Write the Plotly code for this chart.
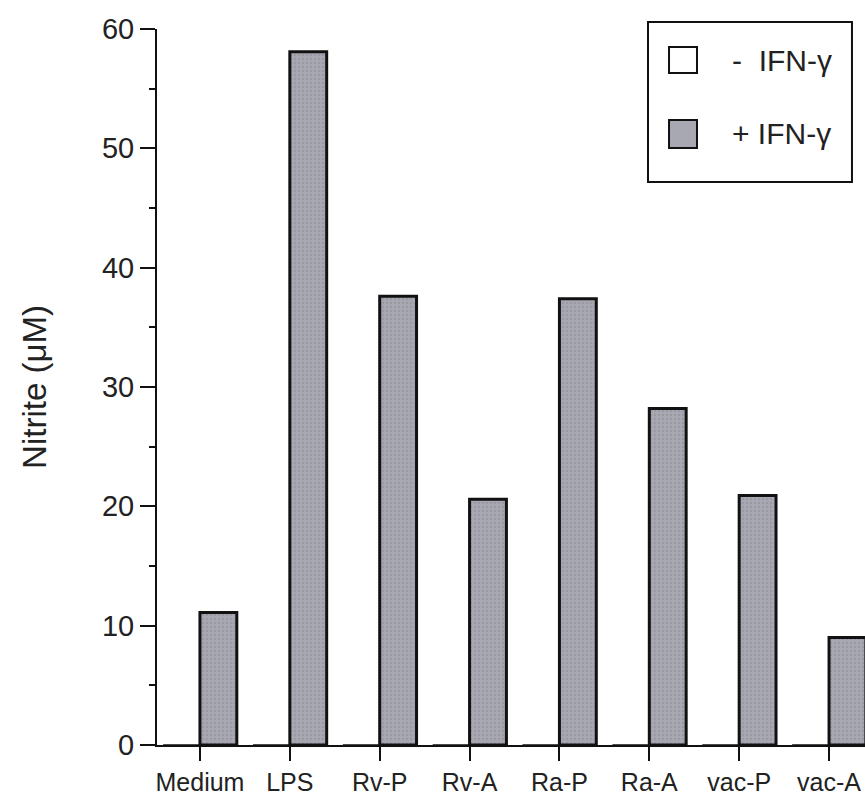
import plotly.graph_objects as go

# Nitrite production by stimulus, with and without IFN-gamma
categories = ["Medium", "LPS", "Rv-P", "Rv-A", "Ra-P", "Ra-A", "vac-P", "vac-A"]
minus_ifn = [0, 0, 0, 0, 0, 0, 0, 0]
plus_ifn = [11.1, 58.1, 37.6, 20.6, 37.4, 28.2, 20.9, 9.0]
y_ticks = [0, 10, 20, 30, 40, 50, 60]

MINUS_FILL = "#ffffff"
PLUS_FILL = "#a8a8b2"
EDGE = "#111111"
TEXT = "#222222"
FONT = "Liberation Sans"

fig = go.Figure()
fig.add_trace(go.Bar(
    x=categories, y=minus_ifn, name="- IFN-γ",
    marker=dict(color=MINUS_FILL, line=dict(color=EDGE, width=1)),
    showlegend=False,
))
fig.add_trace(go.Bar(
    x=categories, y=plus_ifn, name="+ IFN-γ",
    marker=dict(color=PLUS_FILL, line=dict(color=EDGE, width=3),
                pattern=dict(shape=".", fgcolor="#8c8c98", bgcolor=PLUS_FILL,
                             size=4, solidity=0.35)),
    showlegend=False,
))

# legend box drawn in paper space
shapes = [
    dict(type="rect", xref="paper", yref="paper", x0=0.6935, x1=0.9816,
         y0=0.7863, y1=1.0098, line=dict(color=EDGE, width=2),
         fillcolor="rgba(0,0,0,0)"),
    dict(type="rect", xref="paper", yref="paper", x0=0.7232, x1=0.7627,
         y0=0.9385, y1=0.9749, line=dict(color=EDGE, width=2), fillcolor=MINUS_FILL),
    dict(type="rect", xref="paper", yref="paper", x0=0.7232, x1=0.7627,
         y0=0.8338, y1=0.8729, line=dict(color=EDGE, width=2), fillcolor=PLUS_FILL),
]
legend_font = dict(family=FONT, size=30, color=TEXT)
annotations = [
    dict(xref="paper", yref="paper", x=0.8093, y=0.9567, text="-  IFN-γ",
         showarrow=False, xanchor="left", yanchor="middle", font=legend_font),
    dict(xref="paper", yref="paper", x=0.8093, y=0.8534, text="+ IFN-γ",
         showarrow=False, xanchor="left", yanchor="middle", font=legend_font),
]

fig.update_layout(
    width=865, height=795,
    margin=dict(l=157, r=0, t=29, b=50),
    paper_bgcolor="white", plot_bgcolor="white",
    barmode="group", bargap=0.18, bargroupgap=0,
    shapes=shapes, annotations=annotations,
    font=dict(family=FONT, color=TEXT),
    xaxis=dict(
        range=[-0.478, 7.40],
        showline=True, linecolor=EDGE, linewidth=2,
        ticks="outside", ticklen=14, tickwidth=2, tickcolor=EDGE,
        tickfont=dict(size=25), showgrid=False, zeroline=False,
    ),
    yaxis=dict(
        range=[0, 60], tickvals=y_ticks,
        showline=True, linecolor=EDGE, linewidth=2,
        ticks="outside", ticklen=15, tickwidth=2, tickcolor=EDGE,
        minor=dict(dtick=5, ticks="outside", ticklen=6, tickwidth=2, tickcolor=EDGE),
        tickfont=dict(size=29), showgrid=False, zeroline=False,
        title=dict(text="Nitrite (μM)", font=dict(size=33), standoff=45),
    ),
)

fig.write_html("out.html")
